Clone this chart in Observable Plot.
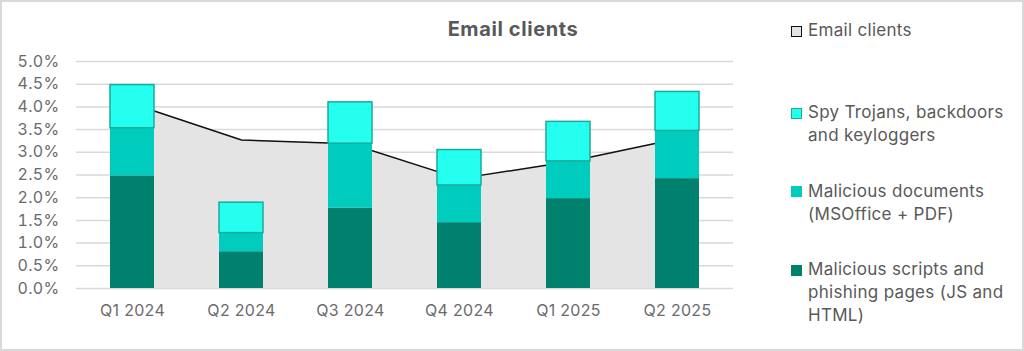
<!DOCTYPE html>
<html>
<head>
<meta charset="utf-8">
<script src="https://cdn.jsdelivr.net/npm/d3@7"></script>
<script src="https://cdn.jsdelivr.net/npm/@observablehq/plot@0.6"></script>
<style>
  html, body { margin: 0; padding: 0; background: #fff; }
  #wrap { position: relative; width: 1024px; height: 351px; overflow: hidden; font-family: Inter, "Noto Sans", sans-serif; }
  #frame { position: absolute; left: 0; top: 0; width: 1020px; height: 347px; border: 2px solid #d9d9d9; pointer-events: none; }
  #title { position: absolute; left: 0; width: 1026px; top: 17px; text-align: center; font-weight: 700; font-size: 20px; letter-spacing: 0.6px; color: #595959; }
  .leg { position: absolute; left: 808px; font-size: 17px; line-height: 23px; letter-spacing: 0.3px; color: #595959; white-space: nowrap; }
  .sw { position: absolute; left: 791px; width: 9px; height: 9px; }
</style>
</head>
<body>
<div id="wrap">
  <div id="chart"></div>
  <div id="title">Email clients</div>
  <div class="sw" style="top:26px;background:#e4e4e4;border:1.5px solid #111;"></div>
  <div class="leg" style="top:19px;">Email clients</div>
  <div class="sw" style="top:108px;background:#24fff0;border:1.5px solid #17ad9b;"></div>
  <div class="leg" style="top:101px;">Spy Trojans, backdoors<br>and keyloggers</div>
  <div class="sw" style="top:186px;width:11px;height:11px;background:#00ccbe;"></div>
  <div class="leg" style="top:180px;">Malicious documents<br>(MSOffice + PDF)</div>
  <div class="sw" style="top:265px;width:11px;height:11px;background:#00816d;"></div>
  <div class="leg" style="top:258px;">Malicious scripts and<br>phishing pages (JS and<br>HTML)</div>
  <div id="frame"></div>
</div>
<script>
const quarters = ["Q1 2024", "Q2 2024", "Q3 2024", "Q4 2024", "Q1 2025", "Q2 2025"];
const scripts = [2.48, 0.81, 1.77, 1.45, 1.98, 2.42];
const documents = [1.05, 0.41, 1.42, 0.82, 0.82, 1.05];
const spy = [0.95, 0.67, 0.91, 0.78, 0.87, 0.86];
const emailClients = [4.07, 3.27, 3.19, 2.42, 2.79, 3.30];
const yTicks = [0, 0.5, 1, 1.5, 2, 2.5, 3, 3.5, 4, 4.5, 5];

const rows = quarters.map((q, i) => {
  const a = scripts[i], b = a + documents[i], c = b + spy[i];
  return { q, email: emailClients[i], s1: 0, s2: a, d1: a, d2: b, p1: b, p2: c };
});

const chart = Plot.plot({
  width: 1024,
  height: 351,
  marginLeft: 76,
  marginRight: 291,
  marginTop: 61,
  marginBottom: 63,
  style: { fontFamily: "Inter, 'Noto Sans', sans-serif", fontSize: "16px", letterSpacing: "0.3px", color: "#6b6b6b", background: "transparent" },
  x: { domain: quarters, paddingInner: 0.6, paddingOuter: 0.3, label: null, tickSize: 0, tickPadding: 16 },
  y: { domain: [0, 5], ticks: yTicks, tickFormat: d => d.toFixed(1) + "%", label: null, tickSize: 0, tickPadding: 17 },
  marks: [
    Plot.gridY(yTicks, { stroke: "#d9d9d9", strokeOpacity: 1, strokeWidth: 1.5 }),
    Plot.areaY(rows, { x: "q", y: "email", fill: "#e4e4e4" }),
    Plot.lineY(rows, { x: "q", y: "email", stroke: "#111", strokeWidth: 1.5 }),
    Plot.barY(rows, { x: "q", y1: "s1", y2: "s2", fill: "#00816d" }),
    Plot.barY(rows, { x: "q", y1: "d1", y2: "d2", fill: "#00ccbe" }),
    Plot.barY(rows, { x: "q", y1: "p1", y2: "p2", fill: "#24fff0", stroke: "#17ad9b", strokeWidth: 1.5 })
  ]
});
document.getElementById("chart").appendChild(chart);
</script>
</body>
</html>
